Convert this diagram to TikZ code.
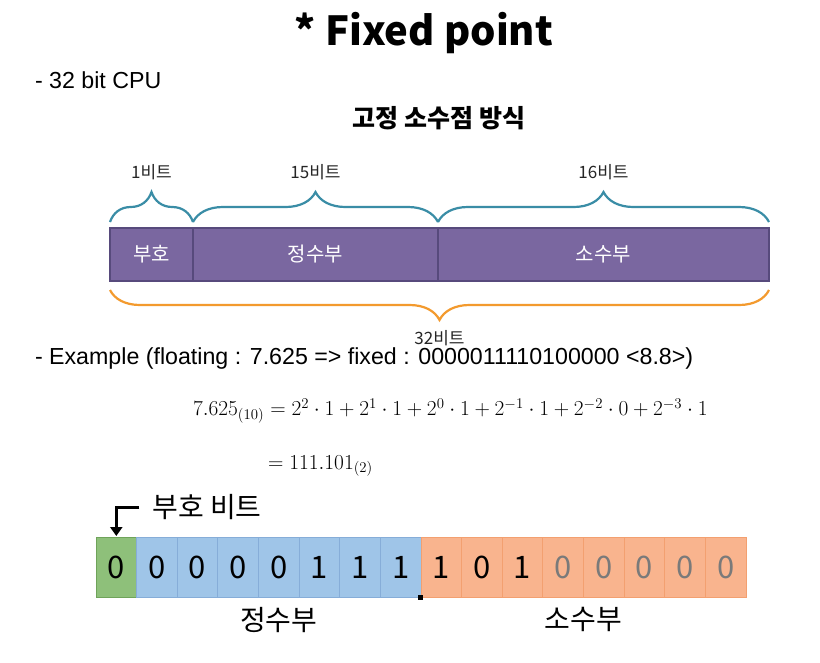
\documentclass[tikz,border=0pt]{standalone}
\usepackage{fontspec}
\setmainfont{Liberation Sans}
\newfontfamily\kr{Noto Sans CJK KR}
\usetikzlibrary{positioning,decorations.pathreplacing,arrows.meta}

\definecolor{barfill}{HTML}{7A67A0}
\definecolor{barline}{HTML}{574A7C}
\definecolor{bracetop}{HTML}{3A8DA6}
\definecolor{bracebot}{HTML}{F39A2E}
\definecolor{greenfill}{HTML}{8EC07A}
\definecolor{greenedge}{HTML}{6FA35A}
\definecolor{bluefill}{HTML}{9FC5E8}
\definecolor{blueedge}{HTML}{86ADD8}
\definecolor{orangefill}{HTML}{F9B48E}
\definecolor{orangeedge}{HTML}{F3A070}
\definecolor{digitgray}{HTML}{7A7A7A}

\begin{document}
\begin{tikzpicture}[x=1pt,y=-1pt,every node/.style={inner sep=0pt,outer sep=0pt},
    segbox/.style={draw=barline,fill=barfill,line width=2.5pt,minimum height=53pt,text=white,font=\kr\fontsize{20}{20}\selectfont},
    topbrace/.style={draw=bracetop,line width=2.2pt,decorate,decoration={brace,amplitude=30pt}},
    botbrace/.style={draw=bracebot,line width=2.2pt,decorate,decoration={brace,amplitude=30pt}},
    bitlabel/.style={font=\kr\fontsize{17}{17}\selectfont,text=black!85},
    cell/.style 2 args={draw=#1edge,fill=#1fill,line width=0.8pt,minimum width=40.625pt,minimum height=60pt,text=#2,font=\kr\fontsize{31}{31}\selectfont},
    partlabel/.style={font=\kr\fontsize{28}{28}\selectfont},
    body/.style={font=\fontsize{23.2}{23.2}\selectfont,anchor=west},
    mathline/.style={anchor=west,font=\fontsize{17}{17}\selectfont}]
    \fill[white] (0,0) rectangle (820,662);

    % headings
    \node[font=\kr\bfseries\fontsize{40}{40}\selectfont] (title) at (424,33) {* Fixed point};
    \node[body] (cpu) at (35,80) {- 32 bit CPU};
    \node[font=\kr\bfseries\fontsize{25}{25}\selectfont] (fixtitle) at (439,118) {고정 소수점 방식};

    % 32 bit layout
    \node[segbox,minimum width=83pt] (sign) at (151.5,254.5) {부호};
    \node[segbox,minimum width=245pt,right=0pt of sign] (int) {정수부};
    \node[segbox,minimum width=331pt,right=0pt of int] (frac) {소수부};

    \draw[topbrace] ([yshift=6pt]sign.north west) -- node[bitlabel,above=42pt] (b1) {1비트} ([yshift=6pt]sign.north east);
    \draw[topbrace] ([yshift=6pt]int.north west) -- node[bitlabel,above=42pt] (b15) {15비트} ([yshift=6pt]int.north east);
    \draw[topbrace] ([yshift=6pt]frac.north west) -- node[bitlabel,above=42pt] (b16) {16비트} ([yshift=6pt]frac.north east);
    \draw[botbrace] ([yshift=-9pt]frac.south east) -- node[bitlabel,below=40pt] (b32) {32비트} ([yshift=-9pt]sign.south west);

    % example
    \node[body] (example) at (35,358) {- Example (floating : 7.625 => fixed : 0000011110100000 <8.8>)};
    \node[mathline] (eqone) at (193,411)
        {\scalebox{1.235}{$7.625_{(10)} = 2^{2}\cdot1+2^{1}\cdot1+2^{0}\cdot1+2^{-1}\cdot1+2^{-2}\cdot0+2^{-3}\cdot1$}};
    \node[mathline] (eqtwo) at (268,466) {\scalebox{1.235}{$=111.101_{(2)}$}};

    % bit cells
    \foreach \f/\t/\d [count=\i from 0] in {green/black/0,blue/black/0,blue/black/0,blue/black/0,blue/black/0,
        blue/black/1,blue/black/1,blue/black/1,orange/black/1,orange/black/0,orange/black/1,
        orange/digitgray/0,orange/digitgray/0,orange/digitgray/0,orange/digitgray/0,orange/digitgray/0}
        \node[cell={\f}{\t}] (c\i) at ({116.3+40.625*\i},567) {\d};

    \node[fill=black,minimum size=5pt] (point) at (c7.south east) {};

    \node[font=\kr\fontsize{28}{28}\selectfont] (signlabel) at (207,507) {부호 비트};
    \draw[-{Triangle[length=9pt,width=12pt]},line width=3pt] ([xshift=-13pt]signlabel.west) -| ([yshift=1pt]c0.north);

    \node[partlabel,below=10pt of c4] (intlabel) {정수부};
    \node[partlabel,below=10pt of c11.south east] (fraclabel) {소수부};
\end{tikzpicture}
\end{document}
